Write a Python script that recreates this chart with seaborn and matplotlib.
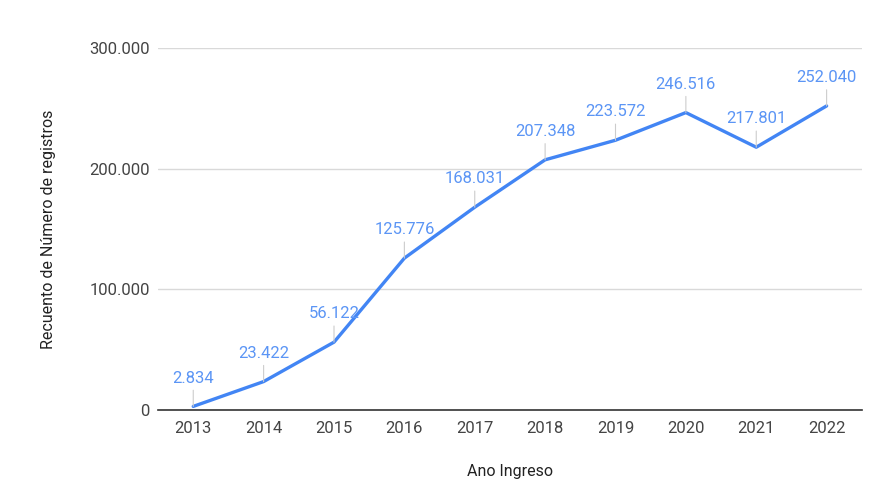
import matplotlib
matplotlib.use("Agg")
import matplotlib.pyplot as plt
import seaborn as sns
import pandas as pd

years = ["2013", "2014", "2015", "2016", "2017", "2018", "2019", "2020", "2021", "2022"]
counts = [2834, 23422, 56122, 125776, 168031, 207348, 223572, 246516, 217801, 252040]
y_ticks = [0, 100000, 200000, 300000]
y_tick_labels = ["0", "100.000", "200.000", "300.000"]

sns.set_theme(style="white")
plt.rcParams["font.family"] = ["Roboto", "DejaVu Sans"]

df = pd.DataFrame({"Ano Ingreso": years, "Recuento": counts})

fig = plt.figure(figsize=(8.83, 5.01), dpi=100)
ax = fig.add_axes([0.179, 0.182, 0.797, 0.722])

sns.lineplot(data=df, x="Ano Ingreso", y="Recuento", ax=ax, color="#4285F4",
             linewidth=2.4, sort=False)

def fmt(v):
    return f"{v:,}".replace(",", ".")

for i, v in enumerate(counts):
    ax.annotate(fmt(v), xy=(i, v), xytext=(0, 15), textcoords="offset points",
                ha="center", va="bottom", fontsize=12, color="#5b95f5",
                arrowprops=dict(arrowstyle="-", color="#cccccc", lw=0.8,
                                shrinkA=1, shrinkB=0))

ax.set_xlim(-0.5, len(years) - 0.5)
ax.set_ylim(0, 300000)
ax.set_yticks(y_ticks)
ax.set_yticklabels(y_tick_labels)
ax.grid(axis="y", color="#d9d9d9", linewidth=1)
ax.set_axisbelow(True)
for s in ["top", "right", "left"]:
    ax.spines[s].set_visible(False)
ax.spines["bottom"].set_color("#333333")
ax.spines["bottom"].set_linewidth(1.2)
ax.tick_params(axis="both", length=0, labelsize=12, labelcolor="#444444")
ax.tick_params(axis="y", pad=6)
ax.tick_params(axis="x", pad=8)
ax.set_xlabel("Ano Ingreso", fontsize=11.5, color="#222222", labelpad=20)
ax.set_ylabel("Recuento de Número de registros", fontsize=11.5, color="#222222", labelpad=24)

fig.savefig("out.png", dpi=100)
